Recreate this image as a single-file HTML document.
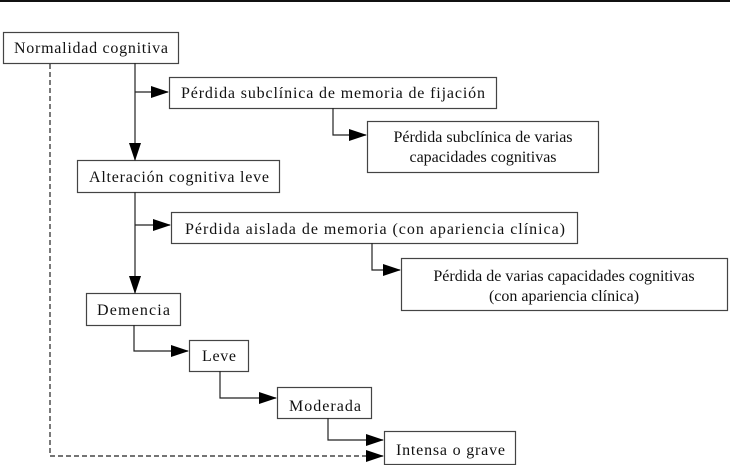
<!DOCTYPE html>
<html><head><meta charset="utf-8"><style>
html,body{margin:0;padding:0;background:#fff;}
svg{display:block;}
text{font-family:"Liberation Serif","DejaVu Serif",serif;font-size:16px;fill:#111;}
</style></head><body>
<svg width="730" height="465" viewBox="0 0 730 465" xmlns="http://www.w3.org/2000/svg">
<defs><marker id="a" markerWidth="10" markerHeight="10" refX="9" refY="5" orient="auto" markerUnits="userSpaceOnUse"><path d="M0,0 L10,5 L0,10 z" fill="#000"/></marker>
<marker id="b" markerWidth="18" markerHeight="12" refX="17" refY="6" orient="auto" markerUnits="userSpaceOnUse"><path d="M0,0 L18,6 L0,12 z" fill="#000"/></marker></defs>
<rect x="0" y="0" width="730" height="2" fill="#111"/>
<g fill="none" stroke="#444" stroke-width="1.2">
<rect x="3.5" y="32.5" width="175" height="31"/>
<rect x="169.5" y="77.5" width="327" height="31"/>
<rect x="367.5" y="121.5" width="231" height="51"/>
<rect x="77.5" y="160.5" width="202" height="32"/>
<rect x="171.5" y="212.5" width="406" height="31"/>
<rect x="401.5" y="258.5" width="326" height="52"/>
<rect x="86.5" y="293.5" width="94" height="32"/>
<rect x="189.5" y="340.5" width="59" height="31"/>
<rect x="277.5" y="387.5" width="94" height="31"/>
<rect x="384.5" y="431.5" width="131" height="33"/>
</g>
<g fill="none" stroke="#222" stroke-width="1.2">
<path d="M135,63 V160" marker-end="url(#b)"/>
<path d="M135,92 H168" marker-end="url(#b)"/>
<path d="M333,108 V135 H366" marker-end="url(#b)"/>
<path d="M135,192 V293" marker-end="url(#b)"/>
<path d="M135,225 H170" marker-end="url(#b)"/>
<path d="M372,243 V270 H400" marker-end="url(#b)"/>
<path d="M134,325 V351 H188" marker-end="url(#b)"/>
<path d="M220,371 V398 H276" marker-end="url(#b)"/>
<path d="M328,418 V440 H383" marker-end="url(#b)"/>
<path d="M50,64 V456 H383" stroke-dasharray="5,3" marker-end="url(#b)"/>
</g>
<text x="14" y="53" textLength="154">Normalidad cognitiva</text>
<text x="181" y="98" textLength="304">Pérdida subclínica de memoria de fijación</text>
<text x="483" y="142" text-anchor="middle">Pérdida subclínica de varias</text>
<text x="483" y="162" text-anchor="middle">capacidades cognitivas</text>
<text x="89" y="182" textLength="180">Alteración cognitiva leve</text>
<text x="185" y="234" textLength="380">Pérdida aislada de memoria (con apariencia clínica)</text>
<text x="564" y="281" text-anchor="middle">Pérdida de varias capacidades cognitivas</text>
<text x="564" y="301" text-anchor="middle">(con apariencia clínica)</text>
<text x="97" y="315" textLength="73">Demencia</text>
<text x="202" y="361" textLength="34">Leve</text>
<text x="289" y="411" textLength="72">Moderada</text>
<text x="396" y="455" textLength="109">Intensa o grave</text>
</svg>
</body></html>
